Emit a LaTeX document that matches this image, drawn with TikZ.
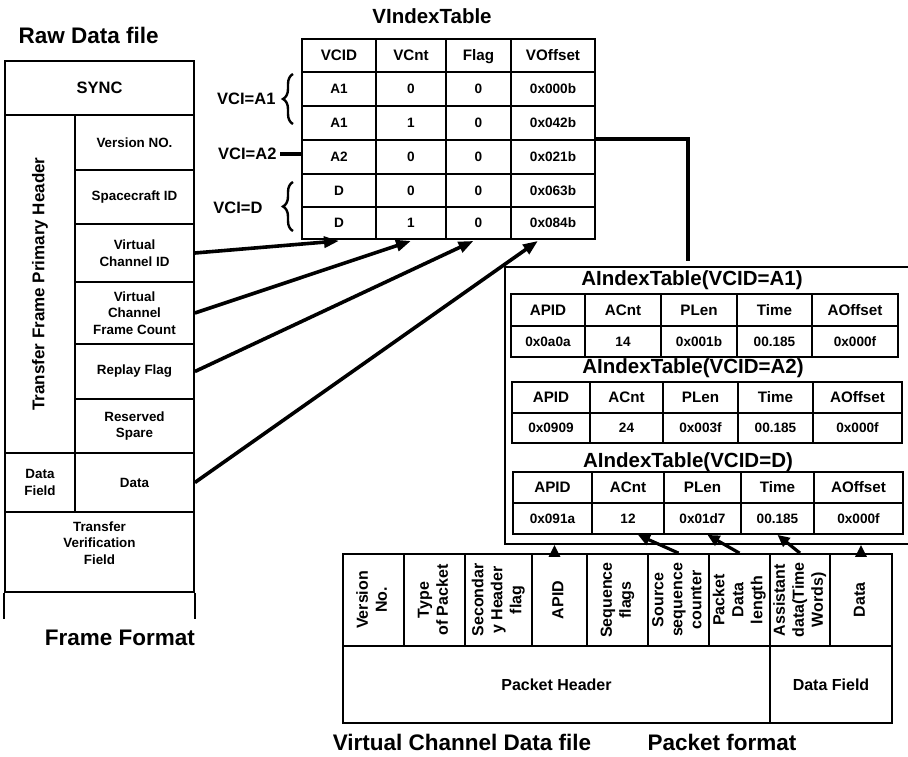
\documentclass[tikz,border=0pt]{standalone}
\usepackage{fontspec}
\setmainfont{Liberation Sans}
\usepackage{graphicx}
\usetikzlibrary{arrows.meta,decorations.pathreplacing}

% bold text of a given size and line spacing
\newcommand\fsz[2]{\fontsize{#1}{#2}\selectfont\bfseries}
% a table cell: [style]{name}{x1}{y1}{x2}{y2}{text}
\newcommand\tcell[7][]{%
  \pgfmathsetmacro\cellw{#5-#3}%
  \pgfmathsetmacro\cellh{#6-#4}%
  \node[cellbox,minimum width=\cellw pt,minimum height=\cellh pt,#1] (#2) at ({(#3+#5)/2},{(#4+#6)/2}) {#7};}
% text set upright in lines, then turned to read upwards
\newcommand\vtext[1]{\rotatebox{90}{\begin{tabular}{@{}c@{}}#1\end{tabular}}}

\begin{document}
\begin{tikzpicture}[x=1pt,y=-1pt,
  cellbox/.style={draw,line width=1.8pt,inner sep=0pt,align=center},
  fr/.style={font=\fsz{13.4}{16.5},align=center},
  hd/.style={font=\fsz{15.2}{17},text height=10.9pt,text depth=0pt},
  dat/.style={font=\fsz{13.6}{15.5},text height=9.7pt,text depth=0pt},
  pk/.style={font=\fsz{16}{19}},
  bigtitle/.style={font=\fsz{22.5}{26}},
  tabtitle/.style={font=\fsz{20.5}{24}},
  vci/.style={font=\fsz{16.5}{19}},
  frameline/.style={line width=1.8pt},
  thickline/.style={line width=3.6pt},
  bigarrow/.style={line width=3.6pt,-{Triangle[length=15pt,width=11pt]}},
  smallarrow/.style={line width=3.2pt,-{Triangle[length=12pt,width=11pt]}},
  bracestyle/.style={line width=2.4pt,decorate,decoration={brace,amplitude=10pt}}]
\useasboundingbox (0,0) rectangle (908,757);
\clip (0,0) rectangle (908,757);

% ---------------- raw data file: frame format ----------------
\node[bigtitle,anchor=west] (rawtitle) at (15,35) {Raw Data file};
\tcell[font=\fsz{16.5}{19}]{sync}{5}{61}{194}{115}{SYNC}
\tcell{tfph}{5}{115}{75}{453}{\vtext{\fsz{17}{20}Transfer Frame Primary Header}}
\tcell[fr]{vers}{75}{115}{194}{170}{Version NO.}
\tcell[fr]{scid}{75}{170}{194}{224}{Spacecraft ID}
\tcell[fr]{vcid}{75}{224}{194}{282}{Virtual\\Channel ID}
\tcell[fr]{vcfc}{75}{282}{194}{344}{Virtual\\Channel\\Frame Count}
\tcell[fr]{rflag}{75}{344}{194}{399}{Replay Flag}
\tcell[fr]{spare}{75}{399}{194}{453}{Reserved\\Spare}
\tcell[fr]{dfield}{5}{453}{75}{512}{Data\\Field}
\tcell[fr]{fdata}{75}{453}{194}{512}{Data}
\tcell{tvf}{5}{512}{194}{592}{}
\node[fr] (tvftext) at ([yshift=9pt]tvf.center) {Transfer\\Verification\\Field};
\draw[frameline] (tvf.south west) -- ++(0,26);
\draw[frameline] (tvf.south east) -- ++(0,26);
\node[bigtitle] (frametitle) at (120,638) {Frame Format};

% ---------------- VIndexTable ----------------
\node[tabtitle] (vtitle) at (432,16) {VIndexTable};
\foreach \colno/\xa/\xb/\head in {1/302/376/VCID,2/376/446/VCnt,3/446/511/Flag,4/511/595/VOffset}{
  \tcell[hd]{vh\colno}{\xa}{39}{\xb}{72}{\head}
}
\foreach \rowno/\ya/\yb/\va/\vb/\vcc/\vdd in {1/72/106/A1/0/0/0x000b,2/106/140/A1/1/0/0x042b,3/140/174/A2/0/0/0x021b,4/174/207/D/0/0/0x063b,5/207/239/D/1/0/0x084b}{
  \tcell[dat]{v\rowno c1}{302}{\ya}{376}{\yb}{\va}
  \tcell[dat]{v\rowno c2}{376}{\ya}{446}{\yb}{\vb}
  \tcell[dat]{v\rowno c3}{446}{\ya}{511}{\yb}{\vcc}
  \tcell[dat]{v\rowno c4}{511}{\ya}{595}{\yb}{\vdd}
}
% virtual channel groups
\node[vci,anchor=east] (gA1) at (279,99) {VCI=A1};
\draw[bracestyle] (293,124) -- (293,74);
\node[vci,anchor=east] (gA2) at (280,154) {VCI=A2};
\draw[thickline] (gA2.east) -- (gA2.east -| v3c1.west);
\node[vci,anchor=east] (gD) at (266,208) {VCI=D};
\draw[bracestyle] (293,231) -- (293,182);

% ---------------- AIndexTables ----------------
\tcell{abox}{505}{267}{920}{544}{}
\node[tabtitle] (a1title) at (692,280) {AIndexTable(VCID=A1)};
\foreach \colno/\xa/\xb/\head/\val in {1/511/585/APID/0x0a0a,2/585/661/ACnt/14,3/661/737/PLen/0x001b,4/737/812/Time/00.185,5/812/898/AOffset/0x000f}{
  \tcell[hd]{a1h\colno}{\xa}{294}{\xb}{326}{\head}
  \tcell[dat]{a1d\colno}{\xa}{326}{\xb}{357}{\val}
}
\node[tabtitle] (a2title) at (693,368) {AIndexTable(VCID=A2)};
\foreach \colno/\xa/\xb/\head/\val in {1/512/590/APID/0x0909,2/590/663/ACnt/24,3/663/738/PLen/0x003f,4/738/813/Time/00.185,5/813/902/AOffset/0x000f}{
  \tcell[hd]{a2h\colno}{\xa}{382}{\xb}{413}{\head}
  \tcell[dat]{a2d\colno}{\xa}{413}{\xb}{443}{\val}
}
\node[tabtitle] (a3title) at (688,462) {AIndexTable(VCID=D)};
\foreach \colno/\xa/\xb/\head/\val in {1/513/592/APID/0x091a,2/592/664/ACnt/12,3/664/741/PLen/0x01d7,4/741/814/Time/00.185,5/814/903/AOffset/0x000f}{
  \tcell[hd]{a3h\colno}{\xa}{472}{\xb}{503}{\head}
  \tcell[dat]{a3d\colno}{\xa}{503}{\xb}{534}{\val}
}
% link from the A2 entry down to the AIndexTables
\coordinate (ajoin) at (688,261);
\draw[thickline] (v3c4.north east) -| (ajoin);

% ---------------- packet format ----------------
\foreach \k/\xa/\xb/\tx in {1/343/404/{Version\\No.},2/404/465/{Type\\of Packet},3/465/532/{Secondar\\y Header\\flag},4/532/587/{APID},5/587/648/{Sequence\\flags},6/648/709/{Source\\sequence\\counter},7/709/770/{Packet\\Data\\length},8/770/830/{Assistant\\data(Time\\Words)},9/830/892/{Data}}{
  \tcell[pk]{pk\k}{\xa}{554}{\xb}{646}{\vtext{\tx}}
}
\tcell[pk]{pheader}{343}{646}{770}{723}{Packet Header}
\tcell[pk]{pdfield}{770}{646}{892}{723}{Data Field}
\node[bigtitle] (vcdtitle) at (462,742) {Virtual Channel Data file};
\node[bigtitle] (pftitle) at (722,742) {Packet format};

% ---------------- connectors ----------------
\draw[bigarrow] (vcid.east) -- ([yshift=-1pt]v5c1.south);
\draw[bigarrow] (vcfc.east) -- ([yshift=-1pt]v5c2.south);
\draw[bigarrow] (rflag.east) -- ([xshift=-5pt,yshift=-1pt]v5c3.south);
\draw[bigarrow] (fdata.east) -- ([xshift=-15pt,yshift=-1pt]v5c4.south);

\coordinate (apidfoot) at ([xshift=-5pt]pk4.north);
\draw[smallarrow] (apidfoot) -- (apidfoot |- abox.south);
\draw[smallarrow] (pk6.north) -- ([xshift=10pt]a3d2.south);
\draw[smallarrow] (pk7.north) -- ([xshift=5pt]a3d3.south);
\draw[smallarrow] (pk8.north) -- (a3d4.south);
\draw[smallarrow] (pk9.north) -- (pk9.north |- abox.south);
\end{tikzpicture}
\end{document}
